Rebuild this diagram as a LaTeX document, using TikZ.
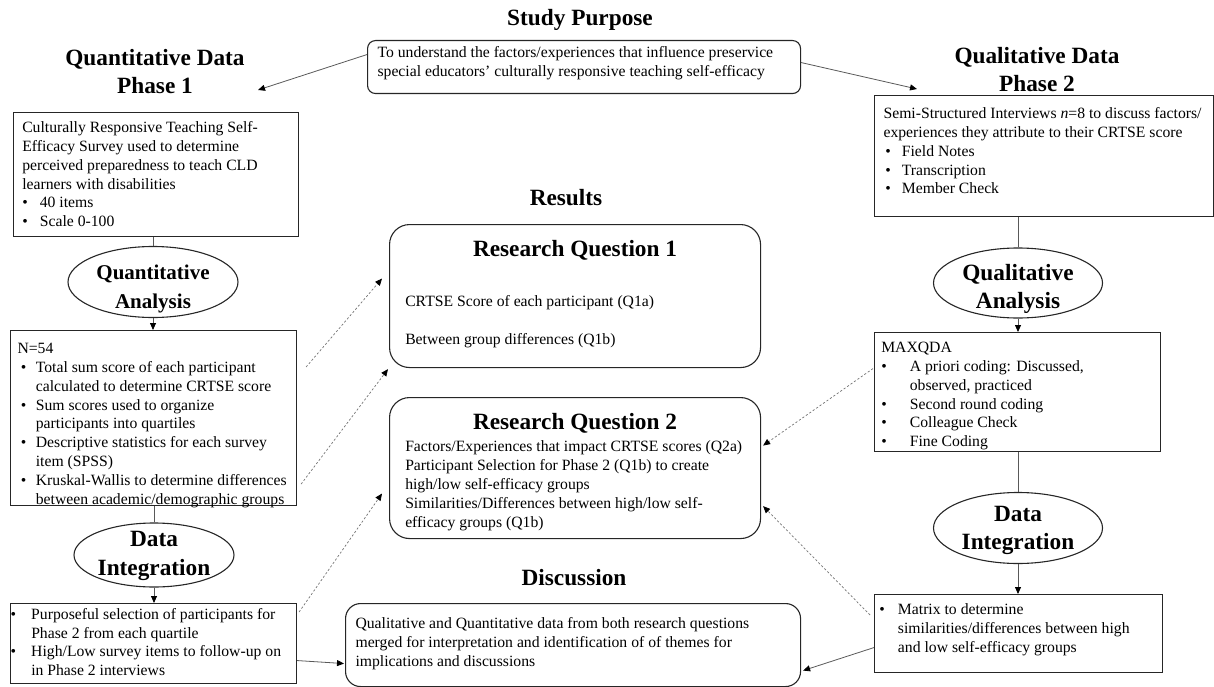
\documentclass[tikz,border=0pt]{standalone}
\usepackage{fontspec}
\setmainfont{Liberation Serif}
\usetikzlibrary{arrows.meta,shapes.geometric}
\newcommand\hd{\bfseries\fontsize{23.3}{28}\selectfont}
\newcommand\fb[1]{\rule{0pt}{#1}}
\newcommand\bul[2]{\par\noindent\hangindent=#2\relax\hangafter=1\relax\makebox[#2][l]{\hspace*{#1}\textbullet}}
\newcommand\bxt[4]{\hspace*{#1}\parbox[t][#3][t]{\dimexpr#2-#1\relax}{\raggedright #4}}
\newcommand\elt[4]{\raisebox{#1}[0pt][0pt]{\smash{\bfseries\fontsize{#2}{28.5}\selectfont\begin{tabular}{@{}c@{}}#3\\#4\end{tabular}}}}
\begin{document}
\begin{tikzpicture}[x=1pt,y=-1pt,
  every node/.style={font=\fontsize{15.7}{18.85}\selectfont, text=black},
  box/.style={draw=black!85, line width=1.1pt, inner sep=0pt, anchor=north west, fill=white},
  ell/.style={draw=black!85, line width=1.1pt, ellipse, inner sep=0pt, fill=white},
  head/.style={font=\hd, align=center},
  line/.style={draw=black!65, line width=0.8pt},
  conn/.style={draw=black!65, line width=0.8pt, -{Triangle[length=7pt,width=6pt,fill=black,color=black]}},
  dconn/.style={draw=black!55, line width=0.7pt, dash pattern=on 2.2pt off 2pt, -{Triangle[length=7pt,width=6pt,fill=black,color=black]}}]
\useasboundingbox (0,0) rectangle (1214,687);

% headings
\node[head, anchor=base] (hsp) at (580,26) {Study Purpose};
\node[head] (hq1) at (155,72) {Quantitative Data\\Phase 1};
\node[head] (hq2) at (1037,70) {Qualitative Data\\Phase 2};
\node[head, anchor=base] (hres) at (566,205) {Results};
\node[head, anchor=base] (hdis) at (574,585) {Discussion};

% boxes
\node[box, rounded corners=8pt] (purpose) at (367,40) {\bxt{10pt}{433pt}{53pt}{\fb{16.7pt}To understand the factors/experiences that influence preservice\\special educators’ culturally responsive teaching self-efficacy}};

\node[box] (q1) at (13,112) {\bxt{8.7pt}{285pt}{124pt}{\fb{20pt}Culturally Responsive Teaching Self-\\Efficacy Survey used to determine\\perceived preparedness to teach CLD\\learners with disabilities\bul{0pt}{17.6pt}40 items\bul{0pt}{17.6pt}Scale 0-100}};

\node[box] (n54) at (10,330) {\bxt{7pt}{286pt}{175pt}{\fb{23pt}N=54\bul{3.3pt}{18.3pt}Total sum score of each participant\newline calculated to determine CRTSE score\bul{3.3pt}{18.3pt}Sum scores used to organize\newline participants into quartiles\bul{3.3pt}{18.3pt}Descriptive statistics for each survey\newline item (SPSS)\bul{3.3pt}{18.3pt}Kruskal-Wallis to determine differences\newline between academic/demographic groups}};

\node[box] (sel) at (10,603) {\bxt{0pt}{286pt}{80pt}{\bul{0pt}{20.7pt}\fb{15.6pt}Purposeful selection of participants for\newline Phase 2 from each quartile\bul{0pt}{20.7pt}High/Low survey items to follow-up on\newline in Phase 2 interviews}};

\node[box, rounded corners=15pt] (disc) at (345,603) {\bxt{10pt}{455pt}{83pt}{\fb{25pt}Qualitative and Quantitative data from both research questions\\merged for interpretation and identification of of themes for\\implications and discussions}};

\node[box, rounded corners=20pt] (rq1) at (389,224) {\bxt{15.7pt}{371pt}{143pt}{\noindent\hspace*{-15.7pt}\makebox[371pt]{\hd\rule[-6pt]{0pt}{38pt}Research Question 1}\par\vspace{31.2pt}\noindent CRTSE Score of each participant (Q1a)\\[18.8pt]Between group differences (Q1b)}};

\node[box, rounded corners=20pt] (rq2) at (389,397) {\bxt{15.7pt}{371pt}{141pt}{\noindent\hspace*{-15.7pt}\makebox[371pt]{\hd\rule[-6pt]{0pt}{38pt}Research Question 2}\par\vspace{3.5pt}\noindent Factors/Experiences that impact CRTSE scores (Q2a)\\Participant Selection for Phase 2 (Q1b) to create\\high/low self-efficacy groups\\Similarities/Differences between high/low self-\\efficacy groups (Q1b)}};

\node[box] (q2) at (874,95) {\bxt{9pt}{339pt}{121pt}{\fb{23pt}Semi-Structured Interviews \textit{n}=8 to discuss factors/\\experiences they attribute to their CRTSE score\bul{1.7pt}{18.3pt}Field Notes\bul{1.7pt}{18.3pt}Transcription\bul{1.7pt}{18.3pt}Member Check}};

\node[box] (maxq) at (874,332) {\bxt{6.7pt}{286pt}{119pt}{\fb{20pt}MAXQDA\bul{0pt}{28.6pt}A priori coding: Discussed,\newline observed, practiced\bul{0pt}{28.6pt}Second round coding\bul{0pt}{28.6pt}Colleague Check\bul{0pt}{28.6pt}Fine Coding}};

\node[box] (mat) at (874,594) {\bxt{4.7pt}{288pt}{78pt}{\bul{0pt}{18.7pt}\fb{20pt}Matrix to determine\newline similarities/differences between high\newline and low self-efficacy groups}};

% ellipses
\node[ell, minimum width=170pt, minimum height=71pt] (qa) at (153,282) {\elt{-11.5pt}{21}{Quantitative}{Analysis}};
\node[ell, minimum width=160pt, minimum height=64pt] (di1) at (154,555) {\elt{-6.5pt}{23.3}{Data}{Integration}};
\node[ell, minimum width=169pt, minimum height=70pt] (qla) at (1018,283) {\elt{-12pt}{23.3}{Qualitative}{Analysis}};
\node[ell, minimum width=169pt, minimum height=71pt] (di2) at (1018,528) {\elt{-8pt}{23.3}{Data}{Integration}};

% free ends
\coordinate (a1) at (258,90);
\coordinate (a2) at (917,89);

% connectors
\draw[conn] ([yshift=12.5pt]purpose.west) -- (a1);
\draw[conn] ([yshift=4.5pt]purpose.east) -- (a2);
\draw[line] (qa.north) -- (qa.north |- q1.south);
\draw[conn] (qa.south) -- (qa.south |- n54.north);
\draw[line] (di1.north) -- (di1.north |- n54.south);
\draw[conn] (di1.south) -- (di1.south |- sel.north);
\draw[conn] ([yshift=-17pt]sel.east) -- ([xshift=-1pt,yshift=-18.5pt]disc.west);
\draw[line] (qla.north) -- (qla.north |- q2.south);
\draw[conn] (qla.south) -- (qla.south |- maxq.north);
\draw[line] (di2.north) -- (di2.north |- maxq.south);
\draw[conn] (di2.south) -- (di2.south |- mat.north);
\draw[conn] ([yshift=-14pt]mat.west) -- ([xshift=2pt,yshift=-25.5pt]disc.east);

\draw[dconn] ([xshift=9pt,yshift=-37pt]n54.north east) -- ([xshift=-7pt,yshift=17.5pt]rq1.west);
\draw[dconn] ([xshift=4pt,yshift=22pt]n54.south east) -- ([xshift=-1pt,yshift=-1pt]rq1.south west);
\draw[dconn] ([xshift=2pt,yshift=-9pt]sel.north east) -- ([xshift=-7pt,yshift=-25.5pt]rq2.west);
\draw[dconn] ([xshift=-1pt,yshift=23.5pt]maxq.west) -- ([xshift=2pt,yshift=22.5pt]rq2.east);
\draw[dconn] ([xshift=-4pt,yshift=-21pt]mat.north west) -- ([xshift=2pt,yshift=33pt]rq2.south east);
\end{tikzpicture}
\end{document}
